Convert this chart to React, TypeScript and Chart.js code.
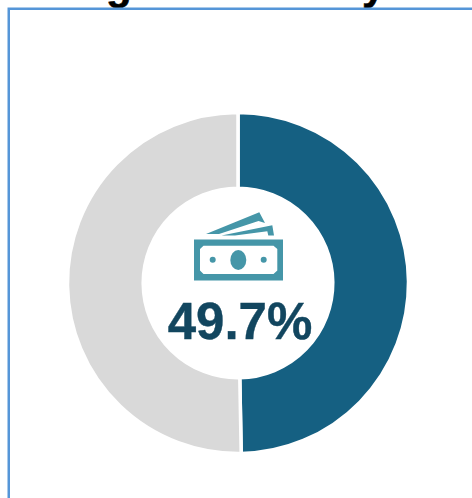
import React, { useEffect, useRef } from "react";
import { Chart, registerables } from "chart.js";

Chart.register(...registerables);

const categories = ["Share", "Remainder"];
const values = [49.7, 50.3];
const colors = ["#156082", "#d9d9d9"];
const centerLabel = "49.7%";
const titleFragments = [
  { text: "g", left: 106 },
  { text: "y", left: 362 },
];

export default function App() {
  const ref = useRef<HTMLCanvasElement | null>(null);
  useEffect(() => {
    if (!ref.current) return;
    const chart = new Chart(ref.current, {
      type: "doughnut",
      data: {
        labels: categories,
        datasets: [{ data: values, backgroundColor: colors, borderColor: "#ffffff", borderWidth: 3.5 }],
      },
      options: {
        animation: false,
        responsive: false,
        radius: 170.5,
        cutout: "55.6%",
        layout: { padding: 0 },
        plugins: { legend: { display: false }, tooltip: { enabled: false }, title: { display: false } },
      },
    });
    return () => chart.destroy();
  }, []);

  return (
    <div style={{ position: "fixed", left: 0, top: 0, width: 472, height: 498, overflow: "hidden", background: "#fff" }}>
      {titleFragments.map((f) => (
        <div key={f.text} style={{ position: "absolute", left: f.left, top: -36, fontFamily: "'Liberation Sans'", fontWeight: 700, fontSize: 42, lineHeight: "42px", color: "#000", WebkitTextStroke: "0.5px #000" }}>
          {f.text}
        </div>
      ))}
      <svg width={472} height={498} style={{ position: "absolute", left: 0, top: 0 }}>
        <path d="M472 8.75H8.75V498" fill="none" stroke="#5596d8" strokeWidth={2.5} />
      </svg>
      <canvas ref={ref} width={476} height={566} style={{ position: "absolute", left: 0, top: 0, width: 476, height: 566 }} />
      <svg width={472} height={498} style={{ position: "absolute", left: 0, top: 0 }}>
        <path fill="#4596a8" fillRule="evenodd" d="M194 239.5H283V280.5H194Z M203.5 245.7H273.5L277.3 249V270.5L273.5 274H203.5L200 270.5V249Z" />
        <ellipse cx={238.3} cy={260} rx={8} ry={10} fill="#4596a8" />
        <circle cx={212.7} cy={259.7} r={3} fill="#4596a8" />
        <circle cx={263.7} cy={259.7} r={3} fill="#4596a8" />
        <path fill="#4596a8" d="M206 234L259.3 212.3L265 223L258.5 221L219 234Z" />
        <path fill="#4596a8" d="M221.5 235.5L272.3 225.3L274 235.5L268.3 235.5L267.3 231.3L235 235.5Z" />
      </svg>
      <div style={{ position: "absolute", left: 140, width: 200, top: 293, textAlign: "center", fontFamily: "'Liberation Sans'", fontWeight: 700, fontSize: 51, lineHeight: "58px", color: "#12465f", WebkitTextStroke: "0.4px #12465f" }}>
        {centerLabel}
      </div>
    </div>
  );
}
